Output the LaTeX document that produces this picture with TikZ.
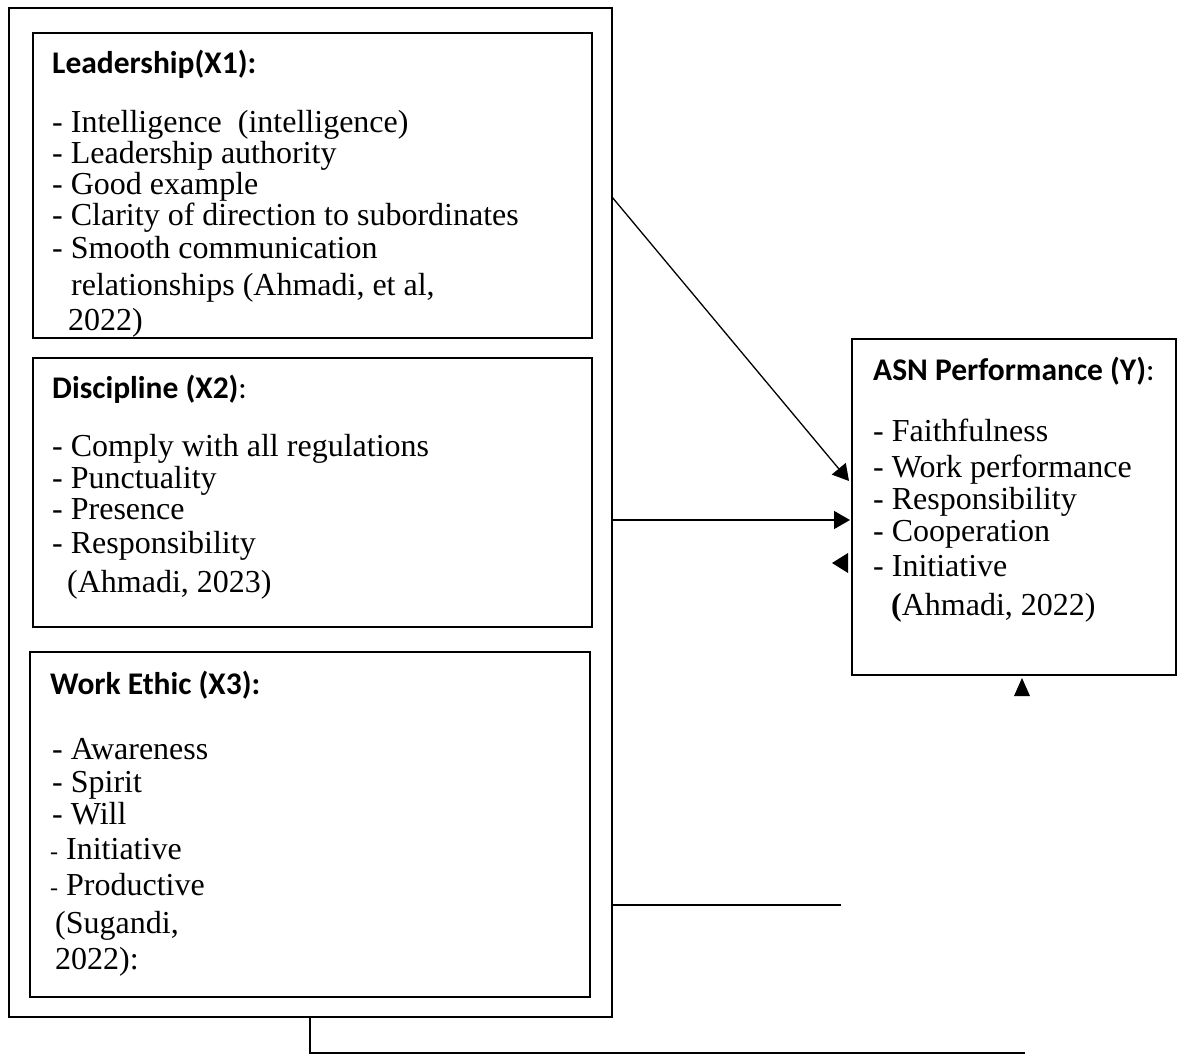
\documentclass[tikz,border=0pt]{standalone}
\usepackage{fontspec}
\setmainfont{Liberation Serif}
\newfontfamily\ttlfam{Carlito}
\usetikzlibrary{arrows.meta}
\begin{document}
\begin{tikzpicture}[x=1pt,y=-1pt,
  box/.style={draw=black,line width=1.6pt,anchor=north west,inner sep=0,outer sep=0},
  ttl/.style={anchor=base west,inner sep=0,font=\ttlfam\fontsize{31.5}{32}\selectfont},
  itm/.style={anchor=base west,inner sep=0,font=\fontsize{32}{32}\selectfont},
  conn/.style={line width=1.6pt},
  arr/.style={line width=1.6pt,-{Triangle[length=16pt,width=18pt]}}]
\useasboundingbox (0,0) rectangle (1179,1057);
% boxes
\node[box,minimum width=603pt,minimum height=1009pt] (outer) at (9,8) {};
\node[box,minimum width=559pt,minimum height=305pt] (b1) at (33,33) {};
\node[box,minimum width=559pt,minimum height=269pt] (b2) at (33,358) {};
\node[box,minimum width=560pt,minimum height=345pt] (b3) at (30,652) {};
\node[box,minimum width=324pt,minimum height=336pt] (asn) at (852,339) {};
% box 1
\node[ttl] (t1) at (52,74) {\bfseries Leadership(X1):};
\node[itm] (l11) at (52,132) {- Intelligence\ \ (intelligence)};
\node[itm] (l12) at (52,163) {- Leadership authority};
\node[itm] (l13) at (52,194) {- Good example};
\node[itm] (l14) at (52,225) {- Clarity of direction to subordinates};
\node[itm] (l15) at (52,258) {- Smooth communication};
\node[itm] (l16) at (71,295) {relationships (Ahmadi, et al,};
\node[itm] (l17) at (68,330) {2022)};
% box 2
\node[ttl] (t2) at (52,398) {\bfseries Discipline (X2)\mdseries:};
\node[itm] (l21) at (52,456) {- Comply with all regulations};
\node[itm] (l22) at (52,488) {- Punctuality};
\node[itm] (l23) at (52,519) {- Presence};
\node[itm] (l24) at (52,553) {- Responsibility};
\node[itm] (l25) at (67,592) {(Ahmadi, 2023)};
% box 3
\node[ttl] (t3) at (50,694) {\bfseries Work Ethic (X3):};
\node[itm] (l31) at (52,759) {- Awareness};
\node[itm] (l32) at (52,792) {- Spirit};
\node[itm] (l33) at (52,824) {- Will};
\node[itm] (l34) at (50,859) {{\fontsize{24}{24}\selectfont -} Initiative};
\node[itm] (l35) at (50,895) {{\fontsize{24}{24}\selectfont -} Productive};
\node[itm] (l36) at (55,933) {(Sugandi,};
\node[itm] (l37) at (55,969) {2022):};
% ASN box
\node[ttl] (t4) at (873,380) {\bfseries ASN Performance (Y)\mdseries:};
\node[itm] (l41) at (873,441) {- Faithfulness};
\node[itm] (l42) at (873,477) {- Work performance};
\node[itm] (l43) at (873,509) {- Responsibility};
\node[itm] (l44) at (873,541) {- Cooperation};
\node[itm] (l45) at (873,576) {- Initiative};
\node[itm] (l46) at (891,615) {\textbf{(}Ahmadi, 2022)};
% connector points
\coordinate (a1s) at (612,197);
\coordinate (a1e) at (849,481);
\coordinate (a2s) at (612,520);
\coordinate (a2e) at (850,520);
\coordinate (a3s) at (612,905);
\coordinate (a3e) at (841,905);
\coordinate (a4s) at (310,1017);
\coordinate (a4m) at (310,1053);
\coordinate (a4e) at (1025,1053);
\draw[arr,line width=1.3pt] (a1s) -- (a1e);
\draw[arr] (a2s) -- (a2e);
\draw[conn,line width=2.4pt] (a3s) -- (a3e);
\draw[conn,line width=2.8pt] (a4s) -- (a4m) -- (a4e);
% loose arrowheads
\fill (832,563) -- (848,553) -- (848,573) -- cycle;
\fill (1022,678) -- (1014,696) -- (1030,696) -- cycle;
\end{tikzpicture}
\end{document}
